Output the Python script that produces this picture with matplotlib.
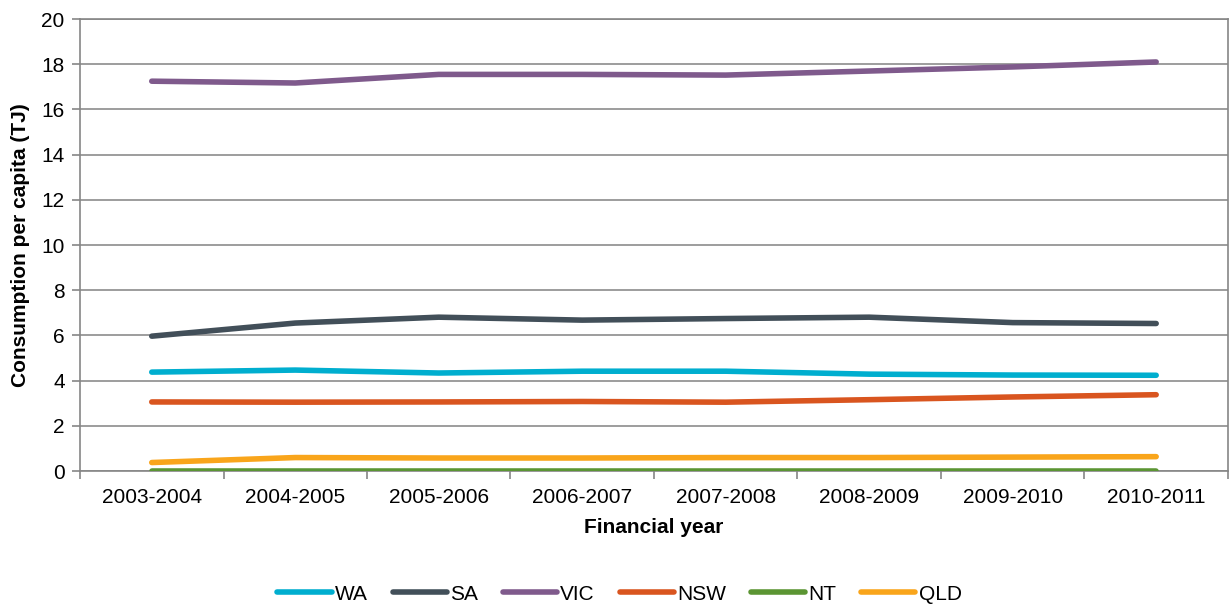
import numpy as np
import matplotlib
matplotlib.use('Agg')
import matplotlib.pyplot as plt

plt.rcParams['font.family'] = ['Liberation Sans', 'DejaVu Sans']

years = ['2003-2004', '2004-2005', '2005-2006', '2006-2007',
         '2007-2008', '2008-2009', '2009-2010', '2010-2011']

# consumption per capita (TJ) by state
wa = [4.38, 4.47, 4.34, 4.42, 4.42, 4.29, 4.25, 4.24]
sa = [5.97, 6.55, 6.81, 6.68, 6.75, 6.81, 6.57, 6.53]
vic = [17.25, 17.17, 17.55, 17.55, 17.52, 17.7, 17.88, 18.1]
nsw = [3.06, 3.05, 3.06, 3.08, 3.05, 3.16, 3.28, 3.38]
nt = [0.02, 0.02, 0.02, 0.02, 0.02, 0.02, 0.02, 0.02]
qld = [0.38, 0.6, 0.58, 0.58, 0.6, 0.6, 0.62, 0.64]

series = [('WA', wa, '#00AECF'), ('SA', sa, '#424F59'), ('VIC', vic, '#7F5A8C'),
          ('NSW', nsw, '#D9551F'), ('NT', nt, '#5B9533'), ('QLD', qld, '#F9A51B')]

fig = plt.figure(figsize=(12.31, 6.04), dpi=100)
ax = fig.add_axes([0.065, 0.22, 0.9325, 0.7485])

x = np.arange(len(years))
for name, vals, col in series:
    ax.plot(x, vals, color=col, lw=4, solid_capstyle='round', label=name, zorder=3)

ax.set_xlim(-0.5, len(years) - 0.5)
ax.set_ylim(0, 20)
ax.set_yticks(range(0, 21, 2))
ax.set_xticks(x)
ax.set_xticklabels(years)
ax.set_xticks(np.arange(-0.5, len(years)), minor=True)
ax.tick_params(axis='x', which='major', length=0, labelsize=15, pad=12)
ax.tick_params(axis='x', which='minor', length=6, color='#868686', width=1.2)
ax.tick_params(axis='y', length=6, color='#868686', width=1.2, labelsize=15, pad=5)

ax.grid(axis='y', color='#8c8c8c', lw=1.2, zorder=0)
for side in ['left', 'bottom', 'right', 'top']:
    ax.spines[side].set_color('#868686')
    ax.spines[side].set_linewidth(1.2)

ax.set_xlabel('Financial year', fontsize=15, fontweight='bold', labelpad=8)
ax.set_ylabel('Consumption per capita (TJ)', fontsize=15, fontweight='bold', labelpad=8)

# legend sits a little left of the axes centre
ax.legend(loc='center', bbox_to_anchor=(0.47, -0.272), ncol=6, frameon=False,
          fontsize=15, handlelength=2.6, handletextpad=0.15, columnspacing=1.2)

fig.savefig('out.png', dpi=100)
